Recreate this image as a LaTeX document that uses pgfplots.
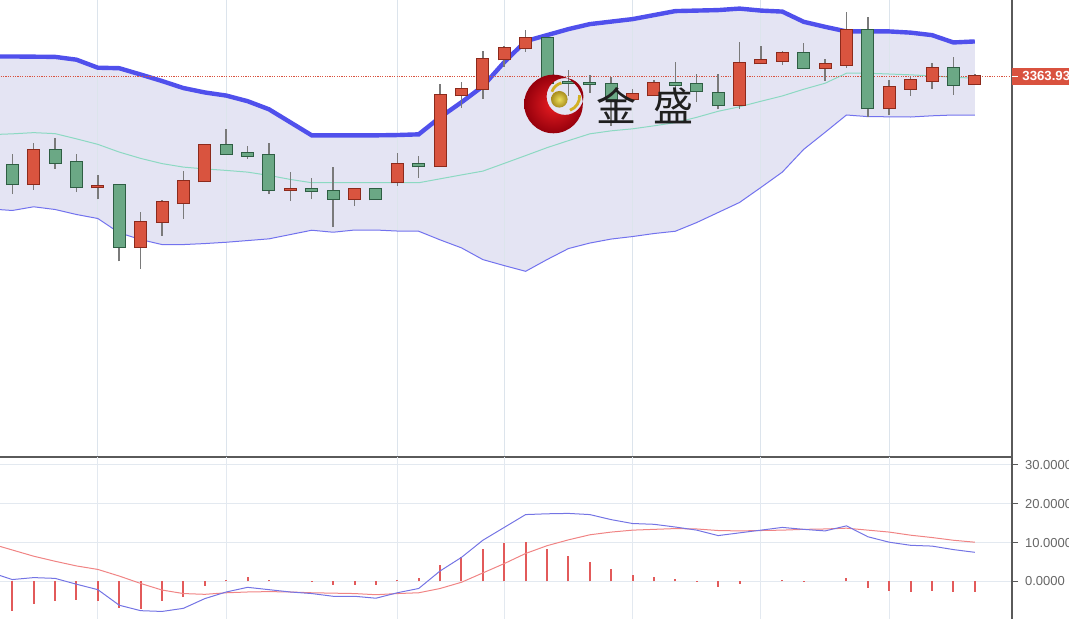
\documentclass[border=0pt]{standalone}
\usepackage{pgfplots}
\pgfplotsset{compat=1.18}
\usepackage{pgfplotstable}
\usepackage{fontspec}
\setmainfont{Liberation Sans}
\newfontfamily\cjk{Noto Sans CJK SC}

\definecolor{upfill}{HTML}{D9543F}
\definecolor{upedge}{HTML}{8C2A1C}
\definecolor{dnfill}{HTML}{6BA885}
\definecolor{dnedge}{HTML}{2E5E43}
\definecolor{wick}{HTML}{7A7A7A}
\definecolor{bandfill}{HTML}{E4E4F3}
\definecolor{bandtop}{HTML}{5050EC}
\definecolor{bandlow}{HTML}{7272EE}
\definecolor{bandmid}{HTML}{8CD9C2}
\definecolor{gridc}{HTML}{DCE4EC}
\definecolor{axisc}{HTML}{5A5A5A}
\definecolor{labelgray}{HTML}{666666}
\definecolor{difc}{HTML}{7474E4}
\definecolor{deac}{HTML}{F08484}
\definecolor{histc}{HTML}{E25A5A}
\definecolor{tagred}{HTML}{D9523F}
\definecolor{gold}{HTML}{D2B024}

% up days (red)
\pgfplotstableread{
i O H L C
1 3256.3 3297.0 3250.7 3290.7
4 3253.0 3265.0 3241.0 3254.5
6 3194.0 3228.3 3171.7 3219.0
7 3218.7 3240.0 3204.7 3238.7
8 3237.3 3269.3 3221.7 3259.3
9 3259.0 3295.7 3258.3 3295.0
13 3250.3 3268.3 3239.3 3251.5
16 3241.7 3252.7 3234.3 3251.7
18 3258.0 3287.0 3254.3 3276.3
20 3274.3 3356.0 3274.3 3345.0
21 3345.0 3358.3 3332.7 3351.0
22 3351.0 3388.7 3341.7 3380.7
23 3380.7 3394.0 3373.3 3392.3
24 3392.3 3409.7 3388.3 3402.0
29 3341.0 3351.0 3341.0 3346.0
30 3345.0 3360.0 3345.0 3357.7
34 3335.0 3397.7 3331.7 3376.7
35 3376.7 3393.7 3375.7 3379.7
36 3379.3 3388.7 3375.3 3386.7
38 3372.3 3381.0 3359.7 3375.7
39 3375.3 3428.3 3372.7 3410.0
41 3332.0 3360.0 3325.0 3353.0
42 3351.7 3363.7 3344.3 3360.0
43 3359.7 3377.3 3351.7 3372.7
45 3356.7 3366.0 3355.3 3363.93
}\upcandles

% down days (green)
\pgfplotstableread{
i O H L C
0 3275.3 3286.3 3246.3 3256.3
2 3290.7 3302.0 3271.7 3277.7
3 3278.0 3286.3 3248.3 3253.0
5 3255.3 3255.3 3179.3 3194.0
10 3295.0 3311.0 3285.7 3286.7
11 3287.0 3294.3 3281.7 3284.7
12 3285.0 3297.0 3246.3 3250.3
14 3251.7 3262.0 3241.0 3249.0
15 3249.3 3273.3 3213.3 3241.7
17 3251.7 3252.0 3240.5 3241.0
19 3276.3 3284.3 3262.7 3274.0
25 3402.0 3402.0 3351.0 3357.0
26 3358.3 3370.0 3344.3 3357.0
27 3357.5 3365.0 3347.7 3356.5
28 3356.0 3363.7 3314.3 3341.0
31 3357.7 3377.7 3341.0 3355.0
32 3356.0 3366.0 3338.3 3349.3
33 3347.7 3366.0 3331.0 3335.0
37 3386.7 3397.0 3371.0 3372.3
40 3410.0 3423.0 3323.7 3332.0
44 3372.7 3383.0 3345.3 3355.7
}\downcandles

% bollinger bands
\pgfplotstableread{
i up mid lo
-1 3383.7 3305.7 3231.5
0 3383.7 3306.5 3230.0
1 3383.5 3307.7 3233.7
2 3383.3 3306.7 3231.0
3 3380.5 3301.5 3226.0
4 3372.5 3296.0 3222.0
5 3372.0 3288.3 3207.7
6 3365.7 3282.0 3201.0
7 3359.2 3276.8 3196.0
8 3352.2 3273.3 3196.0
9 3347.8 3271.5 3197.0
10 3344.7 3270.0 3198.3
11 3339.1 3268.3 3200.0
12 3331.0 3265.0 3201.7
13 3318.0 3261.0 3206.0
14 3305.0 3257.7 3210.3
15 3305.0 3257.7 3208.3
16 3305.0 3257.7 3210.5
17 3305.0 3257.7 3210.5
18 3305.3 3257.7 3209.5
19 3306.0 3257.7 3209.3
20 3323.0 3261.6 3200.7
21 3338.0 3265.5 3192.7
22 3354.0 3269.3 3181.0
23 3378.0 3277.0 3175.0
24 3399.0 3284.8 3169.3
25 3405.0 3292.7 3181.0
26 3411.0 3299.7 3192.0
27 3416.0 3306.5 3197.5
28 3418.5 3309.5 3201.5
29 3421.0 3311.5 3204.0
30 3425.0 3314.5 3207.0
31 3429.0 3317.7 3209.3
32 3429.5 3323.0 3218.0
33 3430.0 3329.0 3228.0
34 3431.5 3333.5 3238.0
35 3429.5 3339.0 3253.0
36 3428.5 3344.3 3268.3
37 3418.3 3351.0 3291.0
38 3413.3 3357.0 3308.0
39 3408.7 3367.0 3325.3
40 3408.7 3367.0 3323.7
41 3408.7 3366.2 3323.5
42 3407.5 3365.4 3323.3
43 3405.0 3364.3 3324.5
44 3397.7 3363.0 3325.3
45 3398.7 3362.0 3325.3
}\bands

% macd
\pgfplotstableread{
i dif dea hist
-1 2.3 9.7 -7.4
0 0.5 8.1 -7.5
1 1.0 6.5 -5.7
2 0.8 5.2 -5.0
3 -0.7 4.0 -4.7
4 -2.1 3.1 -4.9
5 -6.1 1.4 -6.9
6 -7.5 -0.5 -7.0
7 -7.7 -2.2 -5.1
8 -6.9 -3.1 -4.0
9 -4.4 -3.3 -1.2
10 -2.7 -2.9 0.3
11 -1.5 -2.7 1.1
12 -2.1 -2.6 0.4
13 -2.7 -2.7 0.0
14 -3.1 -2.9 -0.2
15 -3.8 -3.0 -0.8
16 -3.8 -3.1 -0.9
17 -4.3 -3.4 -1.0
18 -2.9 -3.1 0.3
19 -1.8 -2.9 1.0
20 2.7 -1.8 4.2
21 6.2 -0.2 6.3
22 10.6 2.2 8.3
23 13.9 4.6 9.8
24 17.2 7.2 10.2
25 17.4 9.2 8.3
26 17.5 10.7 6.6
27 17.2 12.0 5.1
28 15.9 12.7 3.2
29 14.9 13.2 1.6
30 14.7 13.4 1.1
31 14.0 13.6 0.6
32 13.2 13.5 -0.2
33 11.8 13.1 -1.5
34 12.5 13.0 -0.6
35 13.2 13.1 0.0
36 13.9 13.2 0.3
37 13.4 13.4 0.2
38 13.0 13.5 0.0
39 14.3 13.7 0.8
40 11.5 13.2 -1.6
41 10.1 12.7 -2.5
42 9.3 11.9 -2.7
43 9.1 11.3 -2.5
44 8.2 10.6 -2.7
45 7.5 10.1 -2.8
}\macd

\begin{document}
\begin{tikzpicture}

% price panel
\begin{axis}[
  name=price, at={(0,81pt)}, anchor=south west,
  scale only axis, width=506pt, height=228.5pt,
  xmin=-0.575, xmax=46.74, ymin=2984, ymax=3441,
  axis line style={draw=none},
  xtick=\empty, ytick=\empty,
]
% band area: fill under the upper band, then blank out below the lower band
\addplot[draw=none, fill=bandfill, forget plot] table[x=i, y=up] {\bands} \closedcycle;
\addplot[draw=none, fill=white, forget plot] table[x=i, y=lo] {\bands} \closedcycle;
\pgfplotsinvokeforeach{4,10,18,23,29,35,41}{
  \draw[gridc, line width=0.5pt] (axis cs:#1,2984) -- (axis cs:#1,3441);
}
\addplot[bandmid, line width=0.5pt] table[x=i, y=mid] {\bands};
\addplot[bandlow, line width=0.5pt] table[x=i, y=lo] {\bands};
\addplot[bandtop, line width=2.2pt] table[x=i, y=up] {\bands};
\addplot[tagred, line width=0.4pt, dash pattern=on 0.6pt off 0.6pt] coordinates {(-1,3363.93) (47,3363.93)};

% wicks
\addplot[wick, line width=0.75pt, -, quiver={u=0, v=\thisrow{H}-\thisrow{L}}] table[x=i, y=L] {\upcandles};
\addplot[wick, line width=0.75pt, -, quiver={u=0, v=\thisrow{H}-\thisrow{L}}] table[x=i, y=L] {\downcandles};
% bodies
\addplot[upedge, line width=6.5pt, -, quiver={u=0, v=\thisrow{C}-\thisrow{O}+2}] table[x=i, y expr=\thisrow{O}-1] {\upcandles};
\addplot[upfill, line width=5.5pt, -, quiver={u=0, v=\thisrow{C}-\thisrow{O}}] table[x=i, y=O] {\upcandles};
\addplot[dnedge, line width=6.5pt, -, quiver={u=0, v=\thisrow{O}-\thisrow{C}+2}] table[x=i, y expr=\thisrow{C}-1] {\downcandles};
\addplot[dnfill, line width=5.5pt, -, quiver={u=0, v=\thisrow{O}-\thisrow{C}}] table[x=i, y=C] {\downcandles};

\coordinate (tag) at (axis cs:46.74,3363.93);
\end{axis}
\draw[axisc, line width=1pt] (price.south west) -- (price.south east) -- (price.north east);
\node[fill=tagred, text=white, font=\bfseries\fontsize{6.6}{7.5}\selectfont,
  anchor=west, inner xsep=5pt, inner ysep=0pt, minimum height=8.6pt,
  minimum width=30pt, align=left, text width=24pt]
  at (tag) {3363.93};
\draw[white, line width=0.5pt] (tag) -- ++(3pt,0);

% macd panel
\begin{axis}[
  name=macd, at={(0,0)}, anchor=south west,
  scale only axis, width=506pt, height=81pt,
  xmin=-0.575, xmax=46.74, ymin=-9.64, ymax=32.0,
  axis line style={draw=none},
  xtick={4,10,18,23,29,35,41}, xticklabels={}, xtick style={draw=none},
  ytick={0,10,20,30}, ytick pos=right, yticklabel pos=right,
  tick align=outside, major tick length=3pt,
  ytick style={axisc, line width=0.5pt},
  /pgf/number format/assume math mode=true,
  yticklabel style={font=\fontsize{6.5}{7}\selectfont, text=labelgray,
    /pgf/number format/.cd, fixed, fixed zerofill, precision=4},
  grid=major, grid style={gridc!80!white, line width=0.5pt},
]
\addplot[ycomb, histc, line width=1pt, mark=none] table[x=i, y=hist] {\macd};
\addplot[deac, line width=0.5pt, mark=none] table[x=i, y=dea] {\macd};
\addplot[difc, line width=0.5pt, mark=none] table[x=i, y=dif] {\macd};
\end{axis}
\draw[axisc, line width=1pt] (macd.south east) -- (macd.north east);

% watermark logo
\shade[inner color={rgb,255:red,235;green,30;blue,35}, outer color={rgb,255:red,150;green,0;blue,12}, even odd rule]
  (276.75pt,257.5pt) circle (14.65pt) (282.5pt,261.25pt) circle (9.2pt);
\shade[inner color=gold!60!yellow!70!white, outer color=gold!80!black] (279.65pt,259.85pt) circle (4.15pt);
\draw[gold, line width=1.4pt] (282.5pt,261.25pt) ++(105:7pt) arc (105:160:7pt);
\draw[gold, line width=1.4pt] (282.5pt,261.25pt) ++(-70:7.3pt) arc (-70:5:7.3pt);
\node[font=\cjk\fontsize{20}{20}\selectfont, text=black!88, inner sep=0pt] at (308pt,256.5pt) {金};
\node[font=\cjk\fontsize{20}{20}\selectfont, text=black!88, inner sep=0pt] at (336.75pt,256.5pt) {盛};

\pgfresetboundingbox
\path[use as bounding box] (0,0) rectangle (534.5pt,309.5pt);
\end{tikzpicture}
\end{document}
